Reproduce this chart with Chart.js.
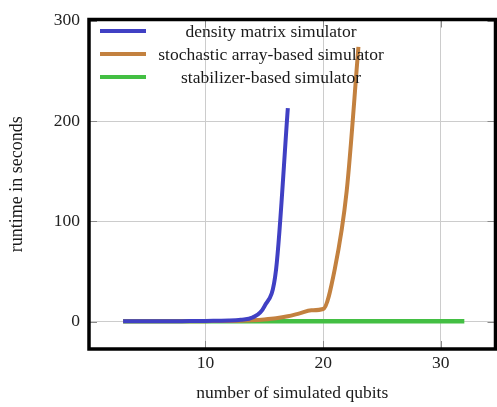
<!DOCTYPE html>
<html>
<head>
<meta charset="utf-8">
<script src="https://cdn.jsdelivr.net/npm/chart.js@4.4.1/dist/chart.umd.min.js"></script>
<style>
  html, body { margin: 0; padding: 0; background: #fff; }
  #wrap { width: 497px; height: 407px; }
</style>
</head>
<body>
<div id="wrap"><canvas id="runtimeChart"></canvas></div>
<script>
// number of qubits per series
const densityQubits = [3, 4, 5, 6, 7, 8, 9, 10, 11, 12, 13, 14, 15, 16, 17];
const densityRuntime = [0.3, 0.3, 0.3, 0.3, 0.4, 0.4, 0.5, 0.6, 0.8, 1.0, 1.8, 4, 15, 52, 213];

const stochasticQubits = [3, 4, 5, 6, 7, 8, 9, 10, 11, 12, 13, 14, 15, 16, 17, 18, 19, 20, 21, 22, 23];
const stochasticRuntime = [0.3, 0.3, 0.3, 0.3, 0.3, 0.4, 0.4, 0.4, 0.5, 0.5, 0.7, 1.2, 2, 3.2, 5.2, 8.2, 11.2, 12.5, 53, 130, 274];

const stabilizerQubits = [3, 4, 5, 6, 7, 8, 9, 10, 11, 12, 13, 14, 15, 16, 17, 18, 19, 20, 21, 22, 23, 24, 25, 26, 27, 28, 29, 30, 31, 32];
const stabilizerRuntime = [0.3, 0.3, 0.3, 0.3, 0.3, 0.3, 0.3, 0.3, 0.3, 0.3, 0.3, 0.3, 0.3, 0.3, 0.3, 0.3, 0.3, 0.3, 0.3, 0.3, 0.3, 0.3, 0.3, 0.3, 0.3, 0.3, 0.3, 0.3, 0.3, 0.3];

const seriesLabels = ['density matrix simulator', 'stochastic array-based simulator', 'stabilizer-based simulator'];
const xTicks = [10, 20, 30];
const yTicks = [0, 100, 200, 300];

const FONT = "'Liberation Serif', 'DejaVu Serif', serif";
const FONT_SIZE = 17.5;

function toPoints(xs, ys) {
    return xs.map((x, i) => ({ x: x, y: ys[i] }));
}

// Frame + inner tick marks, pgfplots style
const framePlugin = {
    id: 'frame',
    afterDatasetsDraw(chart) {
        const { ctx, chartArea: a, scales } = chart;
        const tick = 8;
        ctx.save();
        ctx.strokeStyle = '#8a8a8a';
        ctx.lineWidth = 1;
        ctx.beginPath();
        xTicks.forEach(v => {
            const px = Math.round(scales.x.getPixelForValue(v)) + 0.5;
            ctx.moveTo(px, a.bottom); ctx.lineTo(px, a.bottom - tick);
            ctx.moveTo(px, a.top); ctx.lineTo(px, a.top + tick);
        });
        yTicks.forEach(v => {
            const py = Math.round(scales.y.getPixelForValue(v)) + 0.5;
            ctx.moveTo(a.left, py); ctx.lineTo(a.left + tick, py);
            ctx.moveTo(a.right, py); ctx.lineTo(a.right - tick, py);
        });
        ctx.stroke();
        ctx.strokeStyle = '#000';
        ctx.lineWidth = 3.5;
        ctx.strokeRect(a.left, a.top, a.right - a.left, a.bottom - a.top);
        ctx.restore();
    }
};

// Legend drawn inside the plot, text centred next to the line samples
const legendPlugin = {
    id: 'innerLegend',
    afterDraw(chart) {
        const { ctx } = chart;
        ctx.save();
        ctx.font = FONT_SIZE + 'px ' + FONT;
        ctx.textAlign = 'center';
        ctx.textBaseline = 'middle';
        chart.data.datasets.forEach((ds, i) => {
            const y = 31 + i * 23;
            ctx.strokeStyle = ds.borderColor;
            ctx.lineWidth = 4;
            ctx.beginPath();
            ctx.moveTo(100, y);
            ctx.lineTo(146, y);
            ctx.stroke();
            ctx.fillStyle = '#1a1a1a';
            ctx.fillText(ds.label, 271, y + 1);
        });
        ctx.restore();
    }
};

const ctx = document.getElementById('runtimeChart').getContext('2d');

new Chart(ctx, {
    type: 'line',
    data: {
        datasets: [{
            label: seriesLabels[0],
            data: toPoints(densityQubits, densityRuntime),
            borderColor: '#4040c4',
            borderWidth: 4,
            pointRadius: 0,
            cubicInterpolationMode: 'monotone'
        }, {
            label: seriesLabels[1],
            data: toPoints(stochasticQubits, stochasticRuntime),
            borderColor: '#c3813f',
            borderWidth: 4,
            pointRadius: 0,
            cubicInterpolationMode: 'monotone'
        }, {
            label: seriesLabels[2],
            data: toPoints(stabilizerQubits, stabilizerRuntime),
            borderColor: '#43bf43',
            borderWidth: 4.5,
            pointRadius: 0
        }]
    },
    options: {
        responsive: true,
        maintainAspectRatio: false,
        animation: false,
        events: [],
        layout: { padding: { top: 12.5, right: 1.5, left: 0, bottom: 0 } },
        plugins: {
            legend: { display: false },
            tooltip: { enabled: false }
        },
        scales: {
            x: {
                type: 'linear',
                min: 0.1,
                max: 34.65,
                afterFit(scale) { scale.height = 58; },
                afterBuildTicks(scale) { scale.ticks = xTicks.map(v => ({ value: v })); },
                ticks: {
                    includeBounds: false,
                    padding: 4,
                    color: '#222',
                    font: { family: FONT, size: FONT_SIZE }
                },
                grid: { color: '#cccccc', lineWidth: 1, drawTicks: false },
                border: { display: false },
                title: {
                    display: true,
                    text: 'number of simulated qubits',
                    color: '#1a1a1a',
                    font: { family: FONT, size: FONT_SIZE },
                    padding: { top: 0, bottom: 3 }
                }
            },
            y: {
                type: 'linear',
                min: -27.4,
                max: 301.4,
                afterFit(scale) { scale.width = 89; },
                afterBuildTicks(scale) { scale.ticks = yTicks.map(v => ({ value: v })); },
                ticks: {
                    includeBounds: false,
                    padding: 9,
                    color: '#222',
                    font: { family: FONT, size: FONT_SIZE }
                },
                grid: { color: '#cccccc', lineWidth: 1, drawTicks: false },
                border: { display: false },
                title: {
                    display: true,
                    text: 'runtime in seconds',
                    color: '#1a1a1a',
                    font: { family: FONT, size: 18 },
                    padding: { top: 6, bottom: 0 }
                }
            }
        }
    },
    plugins: [framePlugin, legendPlugin]
});
</script>
</body>
</html>
